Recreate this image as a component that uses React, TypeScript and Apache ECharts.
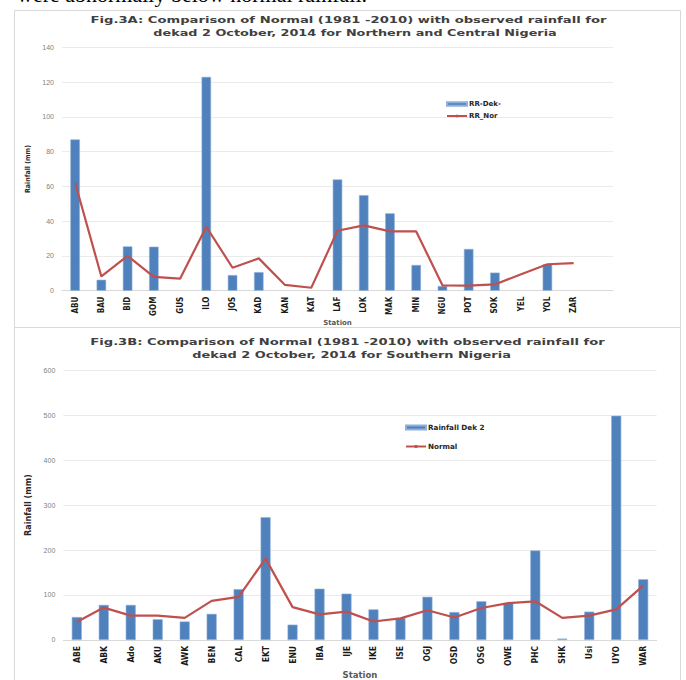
import React, { useEffect, useRef } from "react";
import * as echarts from "echarts";

const stationsA = ["ABU","BAU","BID","GOM","GUS","ILO","JOS","KAD","KAN","KAT","LAF","LOK","MAK","MIN","NGU","POT","SOK","YEL","YOL","ZAR",""];
const rrDekA = [87,6.3,25.5,25.3,null,123,9,10.7,null,null,64,55,44.5,14.8,2.7,24,10.4,null,15.2,null,null];
const rrNorA = [62.1,8.2,20,8,6.9,36.8,13.2,18.6,3.3,1.7,34.5,37.6,34.1,34.1,3.1,2.9,3.6,9.5,15.2,15.9,null];
const ticksA = { min: 0, max: 140, interval: 20 };

const stationsB = ["ABE","ABK","Ado","AKU","AWK","BEN","CAL","EKT","ENU","IBA","IJE","IKE","ISE","OGJ","OSD","OSG","OWE","PHC","SHK","Usi","UYO","WAR"];
const rainDek2B = [51,78,78,46,41,58,113,273,34,114,103,68,49,96,62,86,82,199,3,63,499,135];
const normalB = [40,72,54,54,49,87,96,181,73,57,63,41,48,66,50,71,82,86,49,54,68,121];
const ticksB = { min: 0, max: 600, interval: 100 };

const titleA = [
  "Fig.3A: Comparison of Normal (1981 -2010) with observed rainfall for",
  "dekad 2 October, 2014 for Northern and Central Nigeria",
];
const titleB = [
  "Fig.3B: Comparison of Normal (1981 -2010) with observed rainfall for",
  "dekad 2 October, 2014 for Southern Nigeria",
];

const BLUE = "#4f81bd";
const RED = "#c0504d";
const NARROW = "'Liberation Sans Narrow', 'DejaVu Sans Condensed', 'Arial Narrow', sans-serif";
const SANS = "'Liberation Sans', Arial, sans-serif";
const WIDE = "'DejaVu Sans', Verdana, sans-serif";

function measure(text: string, font: string) {
  const c = document.createElement("canvas");
  const ctx = c.getContext("2d");
  if (!ctx) return 1;
  ctx.font = font;
  return ctx.measureText(text).width || 1;
}

export default function App() {
  const ref = useRef<HTMLDivElement>(null);
  useEffect(() => {
    if (!ref.current) return;
    const chart = echarts.init(ref.current, null, { renderer: "svg" });
    const catAxis = (gi: number, data: string[], fs: number, gap: number, nfs: number) => ({
      type: "category",
      gridIndex: gi,
      data,
      axisTick: { show: false },
      axisLine: { lineStyle: { color: "#d9d9d9", width: 1 } },
      axisLabel: {
        interval: 0,
        rotate: 90,
        margin: 6,
        fontSize: fs,
        fontWeight: "bold",
        fontFamily: NARROW,
        color: "#1a1a1a",
      },
      name: "Station",
      nameLocation: "middle",
      nameGap: gap,
      nameTextStyle: { fontSize: nfs, fontWeight: "bold", color: "#595959", fontFamily: WIDE },
    });
    const valAxis = (gi: number, t: any, nfs: number, gap: number) => ({
      type: "value",
      gridIndex: gi,
      min: t.min,
      max: t.max,
      interval: t.interval,
      axisLine: { show: false },
      axisTick: { show: false },
      splitLine: { lineStyle: { color: "#ebebeb", width: 1 } },
      axisLabel: { fontSize: 7, color: "#7f7f7f", margin: 8, fontFamily: SANS },
      name: "Rainfall (mm)",
      nameLocation: "middle",
      nameGap: gap,
      nameTextStyle: { fontSize: nfs, fontWeight: "bold", color: "#262626", fontFamily: NARROW },
    });

    const TFS = 9;
    const tFont = `bold ${TFS}px 'DejaVu Sans'`;
    const titleText = (text: string, cx: number, cy: number, w: number) => ({
      type: "text",
      x: cx,
      y: cy,
      scaleX: w / measure(text, tFont),
      z: 100,
      style: {
        text,
        fontSize: TFS,
        fontWeight: "bold",
        fontFamily: WIDE,
        fill: "#404040",
        align: "center",
        verticalAlign: "middle",
      },
    });

    chart.setOption({
      animation: false,
      backgroundColor: "#ffffff",
      legend: [
        {
          orient: "vertical",
          left: 446,
          top: 100.5,
          padding: 0,
          itemWidth: 20,
          itemHeight: 3.5,
          itemGap: 5,
          data: [{ name: "RR-Dek-", icon: "rect" }, { name: "RR_Nor" }],
          textStyle: { fontSize: 7, fontWeight: "bold", color: "#262626", fontFamily: WIDE, padding: [0, 0, 0, -3] },
        },
        {
          orient: "vertical",
          left: 405,
          top: 424,
          padding: 0,
          itemWidth: 20,
          itemHeight: 4,
          itemGap: 12,
          data: [{ name: "Rainfall Dek 2", icon: "rect" }, { name: "Normal" }],
          textStyle: { fontSize: 7.2, fontWeight: "bold", color: "#262626", fontFamily: WIDE, padding: [0, 0, 0, -3] },
        },
      ],
      grid: [
        { left: 62, right: 73, top: 47.3, height: 243.4 },
        { left: 63.3, right: 29.3, top: 370.3, height: 272 },
      ],
      xAxis: [catAxis(0, stationsA, 8, 22.5, 7), catAxis(1, stationsB, 8.5, 28.5, 8.5)],
      yAxis: [valAxis(0, ticksA, 7, 25.5), valAxis(1, ticksB, 9, 25)],
      series: [
        {
          name: "RR-Dek-",
          type: "bar",
          xAxisIndex: 0,
          yAxisIndex: 0,
          data: rrDekA,
          barWidth: 9.5,
          itemStyle: { color: BLUE, borderColor: "#8eb0d9", borderWidth: 0.6 },
        },
        {
          name: "RR_Nor",
          type: "line",
          xAxisIndex: 0,
          yAxisIndex: 0,
          data: rrNorA,
          symbol: "none",
          lineStyle: { color: RED, width: 2.2 },
          itemStyle: { color: RED },
        },
        {
          name: "Rainfall Dek 2",
          type: "bar",
          xAxisIndex: 1,
          yAxisIndex: 1,
          data: rainDek2B,
          barWidth: 10,
          itemStyle: { color: BLUE, borderColor: "#8eb0d9", borderWidth: 0.6 },
        },
        {
          name: "Normal",
          type: "line",
          xAxisIndex: 1,
          yAxisIndex: 1,
          data: normalB,
          symbol: "none",
          lineStyle: { color: RED, width: 2.2 },
          itemStyle: { color: RED },
        },
      ],
      graphic: [
        {
          type: "text",
          left: 17,
          top: -17,
          z: 100,
          style: {
            text: "were abnormally below normal rainfall.",
            fontSize: 22,
            fontFamily: "'Liberation Serif', 'Times New Roman', serif",
            fill: "#000000",
          },
        },
        titleText(titleA[0], 348.5, 20.5, 517),
        titleText(titleA[1], 355, 33.5, 404),
        titleText(titleB[0], 347.5, 342, 515),
        titleText(titleB[1], 351.5, 355, 319),
        {
          type: "rect",
          shape: { x: 14.5, y: 10.5, width: 666, height: 317 },
          style: { fill: "none", stroke: "#d9d9d9", lineWidth: 1 },
          z: -1,
        },
        {
          type: "rect",
          shape: { x: 14.5, y: 327.5, width: 666, height: 360 },
          style: { fill: "none", stroke: "#d9d9d9", lineWidth: 1 },
          z: -1,
        },
      ],
    });
    return () => chart.dispose();
  }, []);
  return (
    <div
      ref={ref}
      style={{ position: "fixed", left: 0, top: 0, width: 686, height: 680, background: "#fff" }}
    />
  );
}
